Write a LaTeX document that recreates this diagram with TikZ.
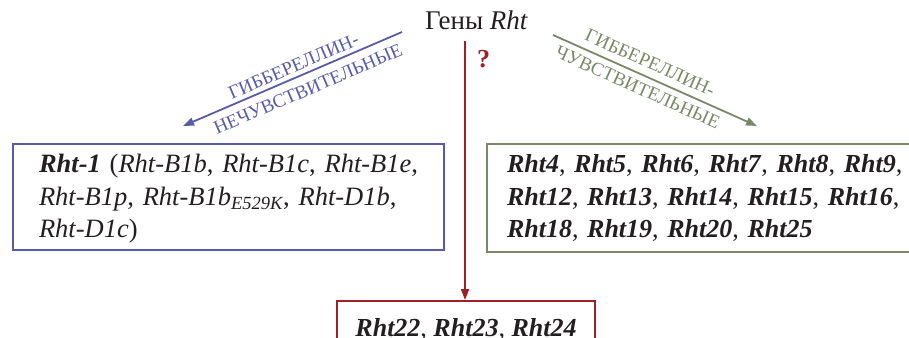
\documentclass[tikz,border=0pt]{standalone}
\usepackage{fontspec}
\setmainfont{Liberation Serif}
\usetikzlibrary{arrows.meta}
\definecolor{insens}{RGB}{88,92,168}
\definecolor{sens}{RGB}{122,136,104}
\definecolor{unkn}{RGB}{158,32,38}
\definecolor{ink}{RGB}{35,31,32}
\newcommand{\gb}[1]{\textbf{\textit{#1}}}

\begin{document}
\begin{tikzpicture}[x=1pt,y=-1pt,
  genebox/.style={draw, line width=2pt, text=ink, align=left,
    font=\fontsize{26}{32.5}\selectfont},
  lbl/.style={font=\fontsize{19}{19}\selectfont, sloped, inner sep=0pt},
  arr/.style={line width=1.8pt, -{Triangle[length=11pt,width=8pt]}}
]
\useasboundingbox (0,0) rectangle (909,337);
\clip (0,0) rectangle (909,337);

% root heading
\node[text=ink, font=\fontsize{27}{27}\selectfont, anchor=base] (root) at (476.5,30) {Гены \textit{Rht}};

% three groups of genes
\node[genebox, draw=insens, anchor=north west, minimum width=431pt,
  minimum height=106pt, text width=379pt, inner xsep=26pt,
  font=\fontsize{26.5}{32.5}\selectfont] (left) at (12,143)
  {\mbox{\rule{0pt}{22.5pt}\gb{Rht-1} (\textit{Rht-B1b}, \textit{Rht-B1c}, \textit{Rht-B1e},}\\
   \mbox{\textit{Rht-B1p}, \textit{Rht-B1b\textsubscript{E529K}}, \textit{Rht-D1b},}\\
   \mbox{\textit{Rht-D1c})}};

\node[genebox, draw=sens, anchor=north west, minimum width=450pt,
  minimum height=108pt, text width=410pt, inner xsep=20pt] (right) at (486,143)
  {\gb{Rht4}, \gb{Rht5}, \gb{Rht6}, \gb{Rht7}, \gb{Rht8}, \gb{Rht9},\\
   \gb{Rht12}, \gb{Rht13}, \gb{Rht14}, \gb{Rht15}, \gb{Rht16},\\
   \gb{Rht18}, \gb{Rht19}, \gb{Rht20}, \gb{Rht25}};

\node[genebox, draw=unkn, anchor=north, minimum width=258pt,
  minimum height=56pt, align=center] (bottom) at (466,300)
  {\gb{Rht22}, \gb{Rht23}, \gb{Rht24}};

% arrow end points
\coordinate (bl0) at (402,32);
\coordinate (bl1) at (183,126);
\coordinate (gr0) at (553,35);
\coordinate (gr1) at (757,126);
\coordinate (rd0) at (465,41);

\draw[arr, insens] (bl0) -- (bl1)
  node[lbl, text=insens, pos=0.475, above=4pt] {ГИББЕРЕЛЛИН-}
  node[lbl, text=insens, pos=0.457, below=8pt] {НЕЧУВСТВИТЕЛЬНЫЕ};
\draw[arr, sens] (gr0) -- (gr1)
  node[lbl, text=sens, pos=0.448, above=7pt] {ГИББЕРЕЛЛИН-}
  node[lbl, text=sens, pos=0.442, below=6pt] {ЧУВСТВИТЕЛЬНЫЕ};
\draw[arr, unkn] (rd0) -- (rd0 |- bottom.north)
  node[pos=0.07, right=8pt, text=unkn, font=\fontsize{26}{26}\selectfont\bfseries] {?};
\end{tikzpicture}
\end{document}
